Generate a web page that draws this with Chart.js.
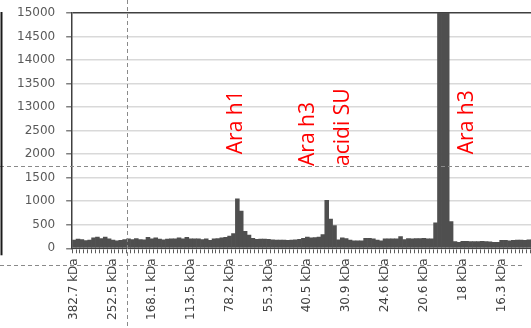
<!DOCTYPE html>
<html>
<head>
<meta charset="utf-8">
<script src="https://cdn.jsdelivr.net/npm/chart.js@4.4.1/dist/chart.umd.min.js"></script>
<style>
  html, body { margin: 0; padding: 0; overflow: hidden; background: #fff; }
  canvas { display: block; }
</style>
</head>
<body>
<canvas id="gel" width="556" height="328"></canvas>
<script>
// molecular weight markers, one every 10 lanes
const kdaLabels = ['382.7 kDa', '252.5 kDa', '168.1 kDa', '113.5 kDa', '78.2 kDa', '55.3 kDa',
  '40.5 kDa', '30.9 kDa', '24.6 kDa', '20.6 kDa', '18 kDa', '16.3 kDa'];

// signal intensity per lane
const intensity = [
  175, 195, 185, 165, 175, 220, 240, 205, 240, 200,
  175, 160, 170, 185, 200, 185, 205, 185, 180, 235,
  200, 220, 195, 180, 195, 200, 200, 220, 200, 235,
  200, 200, 200, 185, 200, 170, 200, 205, 220, 235,
  260, 310, 1050, 790, 360, 280, 210, 190, 195, 195,
  190, 180, 175, 175, 175, 170, 175, 180, 190, 210,
  240, 220, 225, 240, 290, 1020, 620, 480, 180, 220,
  205, 175, 160, 160, 160, 210, 210, 200, 175, 160,
  200, 200, 200, 200, 250, 185, 205, 200, 205, 205,
  210, 200, 200, 540, 15000, 15000, 15000, 570, 140, 125,
  150, 150, 145, 145, 140, 150, 145, 135, 125, 125,
  170, 170, 160, 170, 175, 175, 170, 180, 175, 180
];

// broken y axis: 0..2500 then 13000..15000
const yTickLabels = ['0', '500', '1000', '1500', '2000', '2500', '13000', '13500', '14000', '14500', '15000'];
const BREAK_AT = 2500;
const BREAK_GAP = 10000;

// peak annotations (lane position, axis value where the text starts)
const notes = [
  { text: 'Ara h1', lane: 41.6, value: 2000 },
  { text: 'Ara h3', lane: 60.2, value: 1750 },
  { text: 'acidi SU', lane: 69.1, value: 1750 },
  { text: 'Ara h3', lane: 101, value: 2000 }
];

const toAxis = (v) => (v > BREAK_AT ? v - BREAK_GAP : v);
const laneLabels = intensity.map((_, i) => (i % 10 === 0 ? kdaLabels[i / 10] : ''));

const overlay = {
  id: 'overlay',
  afterDraw(chart) {
    const { ctx, scales: { x, y }, chartArea } = chart;
    const W = chart.width, H = chart.height;

    // peak labels
    ctx.save();
    ctx.fillStyle = '#ff0000';
    ctx.font = '21px "Open Sans"';
    ctx.textAlign = 'left';
    ctx.textBaseline = 'middle';
    notes.forEach((n) => {
      ctx.save();
      ctx.translate(x.getPixelForValue(n.lane), y.getPixelForValue(n.value));
      ctx.rotate(-Math.PI / 2);
      ctx.fillText(n.text, 0, 0);
      ctx.restore();
    });
    ctx.restore();

    // page guide lines
    ctx.save();
    ctx.strokeStyle = '#8a8a8a';
    ctx.lineWidth = 1;
    ctx.setLineDash([4, 3]);
    let yy = Math.round(y.getPixelForValue(1750)) + 0.5;
    ctx.beginPath(); ctx.moveTo(0, yy); ctx.lineTo(W, yy); ctx.stroke();
    yy = Math.round(y.getPixelForValue(-360)) + 0.5;
    ctx.beginPath(); ctx.moveTo(0, yy); ctx.lineTo(x.getPixelForValue(115.5), yy); ctx.stroke();
    const xx = Math.round(x.getPixelForValue(13.6)) + 0.5;
    ctx.beginPath(); ctx.moveTo(xx, 0); ctx.lineTo(xx, H); ctx.stroke();
    ctx.setLineDash([]);
    ctx.strokeStyle = '#1a1a1a';
    ctx.lineWidth = 2;
    ctx.beginPath(); ctx.moveTo(1.5, chartArea.top - 1); ctx.lineTo(1.5, chartArea.bottom + 7); ctx.stroke();
    ctx.restore();
  }
};

new Chart(document.getElementById('gel'), {
  type: 'bar',
  data: {
    labels: laneLabels,
    datasets: [{
      data: intensity.map(toAxis),
      backgroundColor: '#4f4f4f',
      borderWidth: 0,
      barPercentage: 1,
      categoryPercentage: 1
    }]
  },
  options: {
    responsive: false,
    animation: false,
    layout: { padding: { left: 6, top: 13, right: 0, bottom: 3 } },
    plugins: { legend: { display: false }, tooltip: { enabled: false } },
    scales: {
      x: {
        grid: { drawOnChartArea: false, tickLength: 5, tickColor: '#5a5a5a', lineWidth: 1 },
        border: { color: '#404040', width: 1 },
        ticks: {
          autoSkip: false,
          maxRotation: 90,
          minRotation: 90,
          padding: 5,
          color: '#404040',
          font: { family: '"DejaVu Sans"', size: 12 }
        }
      },
      y: {
        min: 0,
        max: 5000,
        grid: {
          color: (c) => (c.tick && c.tick.value === 5000 ? '#404040' : '#d9d9d9'),
          lineWidth: 1.5,
          tickLength: 6,
          tickColor: '#808080'
        },
        border: { color: '#404040', width: 1.5 },
        ticks: {
          stepSize: 500,
          padding: 11,
          color: '#595959',
          font: { family: '"DejaVu Sans"', size: 12, lineHeight: 0.2 },
          callback: (v, i) => yTickLabels[i]
        }
      }
    }
  },
  plugins: [overlay]
});
</script>
</body>
</html>
